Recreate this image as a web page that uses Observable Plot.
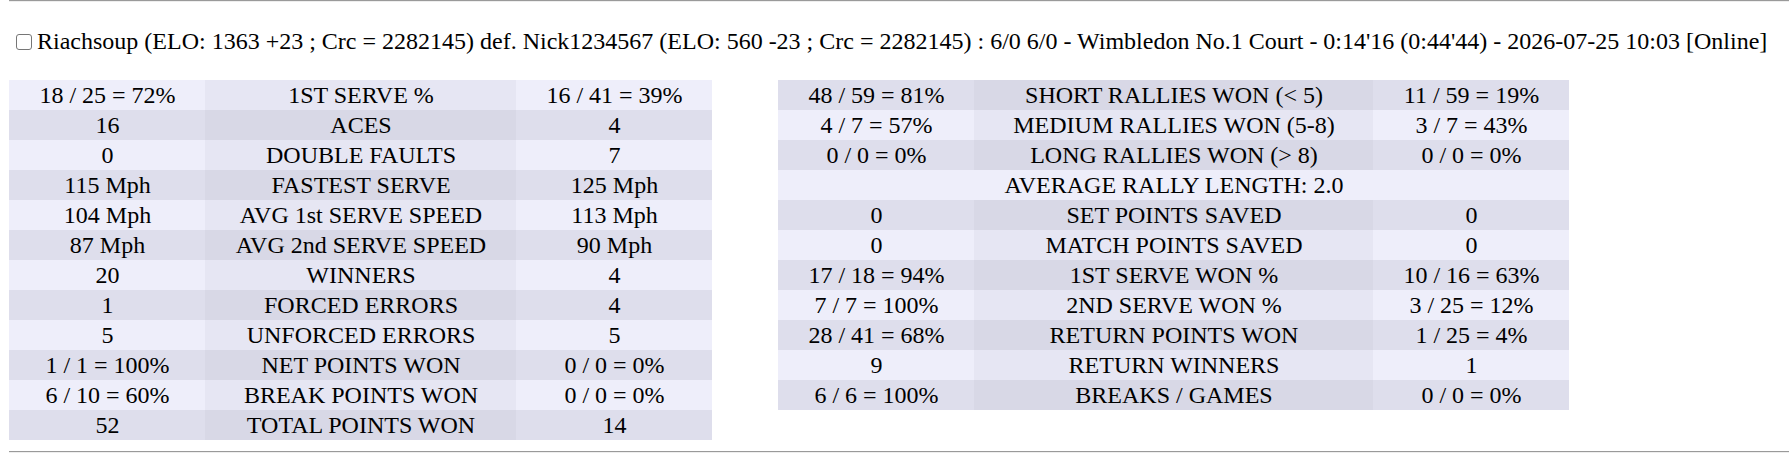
<!DOCTYPE html>
<html>
<head>
<meta charset="utf-8">
<script src="https://cdn.jsdelivr.net/npm/d3@7"></script>
<script src="https://cdn.jsdelivr.net/npm/@observablehq/plot@0.6"></script>
<style>
  html, body { margin: 0; padding: 0; background: #fff; }
  body { width: 1789px; height: 464px; position: relative; overflow: hidden;
         font-family: "Liberation Serif", "Times New Roman", serif; color: #000; }
  .rule { position: absolute; left: 9px; right: 0; height: 0;
          border-top: 1px solid #9a9a9a; border-bottom: 1px solid #eeeeee; }
  #title { position: absolute; left: 16px; top: 26px; font-size: 24px; line-height: 30px; white-space: nowrap; }
  #title .box { display: inline-block; width: 14px; height: 14px; border: 1px solid #767676;
                border-radius: 3px; background: #fff; vertical-align: -1px; margin-right: 5px; }
  .tbl { position: absolute; top: 80px; }
  .tbl svg { display: block; }
</style>
</head>
<body>
<div class="rule" style="top:0px"></div>
<div id="title"><span class="box"></span>Riachsoup (ELO: 1363 +23 ; Crc = 2282145) def. Nick1234567 (ELO: 560 -23 ; Crc = 2282145) : 6/0 6/0 - Wimbledon No.1 Court - 0:14'16 (0:44'44) - 2026-07-25 10:03 [Online]</div>
<div class="tbl" id="left" style="left:9px"></div>
<div class="tbl" id="right" style="left:778px"></div>
<div class="rule" style="top:451px"></div>
<script>
// ---- data ----
const leftPlayer1 = ["18 / 25 = 72%", "16", "0", "115 Mph", "104 Mph", "87 Mph", "20", "1", "5", "1 / 1 = 100%", "6 / 10 = 60%", "52"];
const leftLabels = ["1ST SERVE %", "ACES", "DOUBLE FAULTS", "FASTEST SERVE", "AVG 1st SERVE SPEED", "AVG 2nd SERVE SPEED", "WINNERS", "FORCED ERRORS", "UNFORCED ERRORS", "NET POINTS WON", "BREAK POINTS WON", "TOTAL POINTS WON"];
const leftPlayer2 = ["16 / 41 = 39%", "4", "7", "125 Mph", "113 Mph", "90 Mph", "4", "4", "5", "0 / 0 = 0%", "0 / 0 = 0%", "14"];

const rightPlayer1 = ["48 / 59 = 81%", "4 / 7 = 57%", "0 / 0 = 0%", null, "0", "0", "17 / 18 = 94%", "7 / 7 = 100%", "28 / 41 = 68%", "9", "6 / 6 = 100%"];
const rightLabels = ["SHORT RALLIES WON (< 5)", "MEDIUM RALLIES WON (5-8)", "LONG RALLIES WON (> 8)", "AVERAGE RALLY LENGTH: 2.0", "SET POINTS SAVED", "MATCH POINTS SAVED", "1ST SERVE WON %", "2ND SERVE WON %", "RETURN POINTS WON", "RETURN WINNERS", "BREAKS / GAMES"];
const rightPlayer2 = ["11 / 59 = 19%", "3 / 7 = 43%", "0 / 0 = 0%", null, "0", "0", "10 / 16 = 63%", "3 / 25 = 12%", "1 / 25 = 4%", "1", "0 / 0 = 0%"];

// ---- layout / style ----
const ROW_H = 30;
const FONT = "'Liberation Serif', 'Times New Roman', serif";
const shades = {
  light: {side: "#eeeefa", mid: "#e6e6f3"},
  dark:  {side: "#dedeec", mid: "#d8d8e6"}
};

function buildCells(p1, labels, p2, colWidths, firstDark) {
  const edges = [0];
  colWidths.forEach(w => edges.push(edges[edges.length - 1] + w));
  const cells = [];
  labels.forEach((lab, i) => {
    const dark = (i % 2 === 0) === firstDark;
    const sh = dark ? shades.dark : shades.light;
    if (p1[i] == null && p2[i] == null) {
      cells.push({row: i, x1: edges[0], x2: edges[3], text: lab, fill: sh.side});
      return;
    }
    [p1[i], lab, p2[i]].forEach((t, c) => {
      cells.push({row: i, x1: edges[c], x2: edges[c + 1], text: t, fill: c === 1 ? sh.mid : sh.side});
    });
  });
  return {cells, total: edges[3]};
}

function table(p1, labels, p2, colWidths, firstDark) {
  const {cells, total} = buildCells(p1, labels, p2, colWidths, firstDark);
  return Plot.plot({
    width: total,
    height: labels.length * ROW_H,
    margin: 0,
    style: {background: "transparent", fontFamily: FONT},
    x: {domain: [0, total], axis: null},
    y: {type: "band", domain: d3.range(labels.length), padding: 0, axis: null},
    marks: [
      Plot.barX(cells, {x1: "x1", x2: "x2", y: "row", fill: "fill", shapeRendering: "crispEdges"}),
      Plot.text(cells, {
        x: d => (d.x1 + d.x2) / 2, y: "row", text: "text",
        fontSize: 24, fontFamily: FONT, fill: "#000", textAnchor: "middle"
      })
    ]
  });
}

document.getElementById("left").append(table(leftPlayer1, leftLabels, leftPlayer2, [196, 311, 196], false));
document.getElementById("right").append(table(rightPlayer1, rightLabels, rightPlayer2, [196, 399, 196], true));
</script>
</body>
</html>
